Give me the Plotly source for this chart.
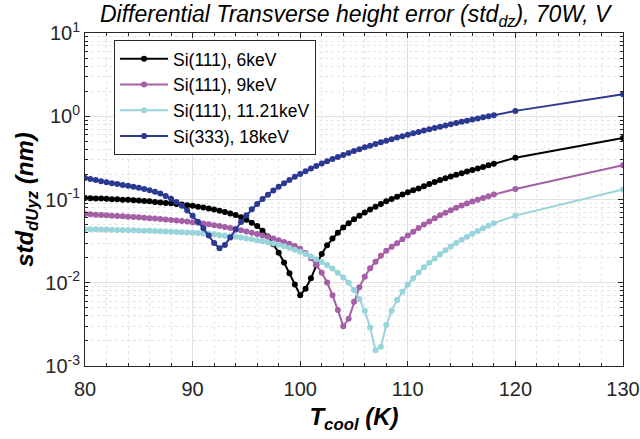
import plotly.graph_objects as go

# Cooling temperature (K)
t_cool = [80, 80.5, 81, 81.5, 82, 82.5, 83, 83.5, 84, 84.5, 85, 85.5, 86, 86.5, 87, 87.5,
          88, 88.5, 89, 89.5, 90, 90.5, 91, 91.5, 92, 92.5, 93, 93.5, 94, 94.5, 95, 95.5,
          96, 96.5, 97, 97.5, 98, 98.5, 99, 99.5, 100, 100.5, 101, 101.5, 102, 102.5, 103,
          103.5, 104, 104.5, 105, 105.5, 106, 106.5, 107, 107.5, 108, 108.5, 109, 109.5,
          110, 110.5, 111, 111.5, 112, 112.5, 113, 113.5, 114, 114.5, 115, 115.5, 116,
          116.5, 117, 117.5, 118, 120, 130]

si111_6kev = [0.104, 0.1035, 0.103, 0.1025, 0.102, 0.101, 0.1005, 0.0995, 0.099, 0.098,
              0.097, 0.096, 0.095, 0.0935, 0.092, 0.091, 0.090, 0.0885, 0.087, 0.0855,
              0.084, 0.082, 0.080, 0.078, 0.076, 0.0735, 0.071, 0.068, 0.065, 0.061,
              0.057, 0.0525, 0.048, 0.042, 0.036, 0.029, 0.023, 0.0175, 0.013, 0.0095,
              0.0071, 0.0085, 0.0113, 0.0162, 0.0222, 0.0282, 0.034, 0.040, 0.046, 0.052,
              0.058, 0.064, 0.070, 0.076, 0.082, 0.0885, 0.095, 0.1015, 0.108, 0.115,
              0.122, 0.129, 0.136, 0.1445, 0.153, 0.162, 0.171, 0.180, 0.189, 0.198,
              0.207, 0.2165, 0.226, 0.236, 0.246, 0.257, 0.268, 0.318, 0.548]

si111_9kev = [0.0670, 0.0664, 0.0658, 0.0652, 0.0646, 0.0640, 0.0634, 0.0628, 0.0622, 0.0616,
              0.0610, 0.0604, 0.0597, 0.0590, 0.0583, 0.0575, 0.0567, 0.0560, 0.0552, 0.0543,
              0.0534, 0.0524, 0.0514, 0.0503, 0.0492, 0.0480, 0.0468, 0.0455, 0.0442, 0.0428,
              0.0414, 0.0400, 0.0385, 0.0370, 0.0355, 0.0340, 0.0325, 0.0309, 0.0294, 0.0276,
              0.0256, 0.0228, 0.0197, 0.0164, 0.0132, 0.0101, 0.0071, 0.0047, 0.0030, 0.0037,
              0.0059, 0.0088, 0.0118, 0.0149, 0.0179, 0.0211, 0.0243, 0.0270, 0.0298, 0.0334,
              0.0370, 0.0411, 0.0455, 0.0500, 0.0545, 0.0595, 0.0645, 0.0695, 0.0745, 0.0795,
              0.0845, 0.0895, 0.0945, 0.0995, 0.1045, 0.1095, 0.1145, 0.134, 0.258]

si111_1121kev = [0.0440, 0.0439, 0.0438, 0.0436, 0.0435, 0.0433, 0.0431, 0.0430, 0.0428, 0.0426,
                 0.0424, 0.0422, 0.0420, 0.0418, 0.0416, 0.0414, 0.0411, 0.0408, 0.0405, 0.0402,
                 0.0399, 0.0395, 0.0391, 0.0387, 0.0382, 0.0373, 0.0368, 0.0362, 0.0356, 0.0349,
                 0.0341, 0.0333, 0.0325, 0.0316, 0.0307, 0.0297, 0.0286, 0.0274, 0.0262, 0.0249,
                 0.0236, 0.0222, 0.0207, 0.0192, 0.0177, 0.0163, 0.0148, 0.0132, 0.0116, 0.0100,
                 0.0082, 0.0064, 0.0046, 0.0029, 0.00155, 0.0017, 0.0031, 0.0046, 0.0062, 0.0078,
                 0.0095, 0.0113, 0.0133, 0.0153, 0.0174, 0.0196, 0.0220, 0.0246, 0.0273, 0.0301,
                 0.0329, 0.0358, 0.0388, 0.0419, 0.0451, 0.0484, 0.0518, 0.064, 0.132]

si333_18kev = [0.181, 0.176, 0.171, 0.166, 0.161, 0.157, 0.153, 0.149, 0.146, 0.142,
               0.138, 0.134, 0.129, 0.124, 0.118, 0.110, 0.102, 0.093, 0.084, 0.074,
               0.064, 0.054, 0.045, 0.037, 0.030, 0.026, 0.0285, 0.035, 0.0437, 0.0537,
               0.0646, 0.0762, 0.0884, 0.1012, 0.1144, 0.1281, 0.1422, 0.1568, 0.1717, 0.1871,
               0.2029, 0.219, 0.2356, 0.2525, 0.270, 0.2877, 0.3058, 0.3244, 0.3433, 0.3626,
               0.3823, 0.4024, 0.4228, 0.4437, 0.4649, 0.4866, 0.5086, 0.531, 0.5538, 0.577,
               0.6005, 0.6245, 0.6488, 0.6736, 0.6987, 0.7241, 0.750, 0.776, 0.8025, 0.830,
               0.857, 0.885, 0.913, 0.9415, 0.9705, 1.000, 1.03, 1.16, 1.84]

series_names = ["Si(111), 6keV", "Si(111), 9keV", "Si(111), 11.21keV", "Si(333), 18keV"]
series_values = [si111_6kev, si111_9kev, si111_1121kev, si333_18kev]
series_colors = ["#000000", "#a45fa6", "#98d4d9", "#2b3990"]

y_tick_vals = [0.001, 0.01, 0.1, 1, 10]
y_tick_text = ["10<sup>-3</sup>", "10<sup>-2</sup>", "10<sup>-1</sup>", "10<sup>0</sup>", "10<sup>1</sup>"]
y_minor_vals = [m * d for d in (0.001, 0.01, 0.1, 1) for m in range(2, 10)]
x_tick_vals = [80, 90, 100, 110, 120, 130]
x_minor_vals = [v for v in range(82, 130, 2) if v % 10 != 0]

FONT = "Liberation Sans, Arial, Helvetica, sans-serif"
AX = "#262626"

fig = go.Figure()
for name, vals, col in zip(series_names, series_values, series_colors):
    fig.add_trace(go.Scatter(
        x=t_cool, y=vals, name=name, mode="lines+markers",
        line=dict(color=col, width=2),
        marker=dict(color=col, size=6, symbol="circle"),
    ))

fig.update_layout(
    width=640, height=439,
    margin=dict(l=85, r=17, t=33, b=73, autoexpand=False),
    paper_bgcolor="white", plot_bgcolor="white",
    font=dict(family=FONT, color=AX, size=16),
    title=dict(
        text="<i>Differential Transverse height error (std<sub>dz</sub>), 70W, V</i>",
        x=0.555, xanchor="center", y=0.968, yanchor="middle",
        font=dict(family=FONT, size=23, color="#000000"),
    ),
    showlegend=True,
    legend=dict(
        x=0.054, y=0.979, xanchor="left", yanchor="top",
        bgcolor="white", bordercolor=AX, borderwidth=1,
        font=dict(family=FONT, size=17.5, color="#000000"),
        itemwidth=48, tracegroupgap=0,
        entrywidth=150, entrywidthmode="pixels",
    ),
)

fig.update_xaxes(
    range=[80, 130], tickmode="array", tickvals=x_tick_vals,
    automargin=False,
    showline=True, linecolor=AX, linewidth=1, mirror="ticks",
    ticks="inside", ticklen=5, tickcolor=AX,
    showgrid=True, gridcolor="#e0e0e0", gridwidth=1,
    zeroline=False,
    minor=dict(tickmode="array", tickvals=x_minor_vals, ticks="inside", ticklen=3, tickcolor=AX,
               showgrid=True, gridcolor="#e6e6e6", griddash="dot"),
    tickfont=dict(size=20, family=FONT, color=AX),
    ticklabelstandoff=5,
    title=dict(text="<b><i>T<sub>cool</sub> (K)</i></b>", font=dict(size=24, family=FONT, color="#000000"), standoff=9),
)

fig.update_yaxes(
    type="log", range=[-3, 1], tickmode="array", tickvals=y_tick_vals, ticktext=y_tick_text,
    automargin=False,
    showline=True, linecolor=AX, linewidth=1, mirror="ticks",
    ticks="inside", ticklen=5, tickcolor=AX,
    showgrid=True, gridcolor="#e0e0e0", gridwidth=1,
    zeroline=False,
    minor=dict(tickmode="array", tickvals=y_minor_vals, ticks="inside", ticklen=3, tickcolor=AX,
               showgrid=True, gridcolor="#e6e6e6", griddash="dot"),
    tickfont=dict(size=20, family=FONT, color=AX),
    title=dict(text="<b><i>std<sub>dUyz</sub> (nm)</i></b>", font=dict(size=24, family=FONT, color="#000000"), standoff=4),
)

fig.write_html(
    "out.html",
    config={"displayModeBar": False},
    post_script="document.body.style.margin='0px';document.body.style.overflow='hidden';",
)
